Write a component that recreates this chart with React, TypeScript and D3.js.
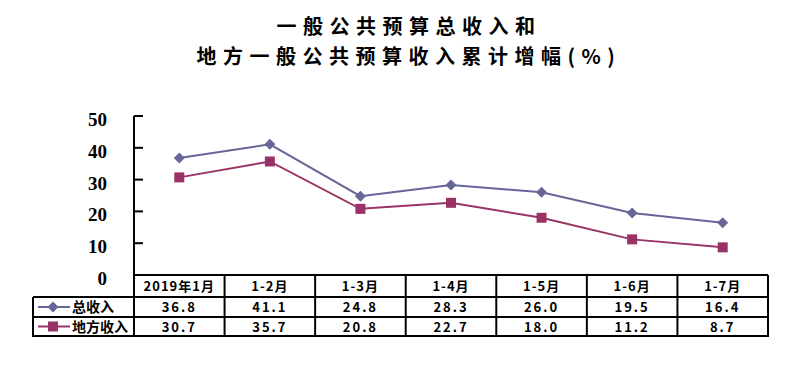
import React from 'react';
import * as d3 from 'd3';

// chart data
const categories = ['2019年1月', '1-2月', '1-3月', '1-4月', '1-5月', '1-6月', '1-7月'];
const seriesNames = ['总收入', '地方收入'];
const totalRevenue = [36.8, 41.1, 24.8, 28.3, 26.0, 19.5, 16.4];
const localRevenue = [30.7, 35.7, 20.8, 22.7, 18.0, 11.2, 8.7];
const yTicks = [0, 10, 20, 30, 40, 50];
const titleLines = ['一般公共预算总收入和', '地方一般公共预算收入累计增幅(%)'];

const width = 809;
const height = 372;

const plotLeft = 134;
const plotRight = 768;
const plotTop = 116;
const plotBottom = 275;
const tableLeft = 33;
const rowH = [22, 20, 19];

const colors = ['#666699', '#993366'];
const tableFont = '"Noto Sans CJK SC", "Noto Sans", sans-serif';

const App = () => {
  const x = d3.scaleBand().domain(categories).range([plotLeft, plotRight]);
  const y = d3.scaleLinear().domain([0, 50]).range([plotBottom, plotTop]);
  const cx = (c: string) => (x(c) as number) + x.bandwidth() / 2;

  const line = d3
    .line<number>()
    .x((_, i) => cx(categories[i]))
    .y((d) => y(d));

  const series = [totalRevenue, localRevenue];

  const row1Top = plotBottom + rowH[0];
  const row2Top = row1Top + rowH[1];
  const tableBottom = row2Top + rowH[2];

  const diamond = (px: number, py: number, r: number) =>
    `M${px},${py - r}L${px + r},${py}L${px},${py + r}L${px - r},${py}Z`;

  const marker = (k: number, px: number, py: number) =>
    k === 0 ? (
      <path d={diamond(px, py, 5.5)} fill={colors[0]} />
    ) : (
      <rect x={px - 5} y={py - 5} width={10} height={10} fill={colors[1]} />
    );

  return (
    <svg
      width={width}
      height={height}
      style={{ position: 'absolute', left: 0, top: 0, background: '#fff' }}
    >
      {/* title */}
      {titleLines.map((t, i) => (
        <text
          key={t}
          x={409}
          y={34 + i * 30}
          textAnchor="middle"
          fontFamily={tableFont}
          fontWeight="bold"
          fontSize={20}
          letterSpacing={6.5}
        >
          {t}
        </text>
      ))}

      {/* y axis */}
      <line x1={plotLeft} x2={plotLeft} y1={plotTop} y2={tableBottom} stroke="#000" strokeWidth={2} />
      {yTicks.map((t) => (
        <g key={t}>
          <line x1={plotLeft} x2={plotLeft + 9} y1={y(t)} y2={y(t)} stroke="#000" strokeWidth={2} />
          <text
            x={107}
            y={y(t) + 10}
            textAnchor="end"
            fontFamily='"Liberation Serif", serif'
            fontWeight="bold"
            fontSize={19}
          >
            {t}
          </text>
        </g>
      ))}

      {/* lines and markers */}
      {series.map((s, k) => (
        <g key={k}>
          <path d={line(s) as string} fill="none" stroke={colors[k]} strokeWidth={2} />
          {s.map((v, i) => (
            <g key={i}>{marker(k, cx(categories[i]), y(v))}</g>
          ))}
        </g>
      ))}

      {/* data table */}
      <g stroke="#000" strokeWidth={2}>
        <line x1={plotLeft} x2={plotRight} y1={plotBottom} y2={plotBottom} />
        <line x1={tableLeft} x2={plotRight} y1={row1Top} y2={row1Top} />
        <line x1={tableLeft} x2={plotRight} y1={row2Top} y2={row2Top} />
        <line x1={tableLeft - 1} x2={plotRight + 1} y1={tableBottom} y2={tableBottom} />
        <line x1={tableLeft} x2={tableLeft} y1={row1Top} y2={tableBottom} />
        {categories.map((c) => (
          <line
            key={c}
            x1={(x(c) as number) + x.bandwidth()}
            x2={(x(c) as number) + x.bandwidth()}
            y1={plotBottom}
            y2={tableBottom}
          />
        ))}
      </g>

      <g fontFamily={tableFont} fontWeight="bold" fontSize={13} textAnchor="middle">
        {categories.map((c) => (
          <text key={c} x={cx(c)} y={plotBottom + 16} letterSpacing={1}>
            {c}
          </text>
        ))}
        {series.map((s, k) =>
          s.map((v, i) => (
            <text
              key={`${k}-${i}`}
              x={cx(categories[i])}
              y={(k === 0 ? row1Top : row2Top) + 15}
              letterSpacing={2}
            >
              {v.toFixed(1)}
            </text>
          ))
        )}
      </g>

      {/* legend keys in the table */}
      {seriesNames.map((n, k) => {
        const ry = (k === 0 ? row1Top : row2Top) + (k === 0 ? rowH[1] : rowH[2]) / 2;
        return (
          <g key={n}>
            <line x1={38} x2={70} y1={ry} y2={ry} stroke={colors[k]} strokeWidth={2} />
            {marker(k, 53, ry)}
            <text
              x={72}
              y={ry + 5}
              fontFamily={tableFont}
              fontWeight="bold"
              fontSize={14}
            >
              {n}
            </text>
          </g>
        );
      })}
    </svg>
  );
};

export default App;
